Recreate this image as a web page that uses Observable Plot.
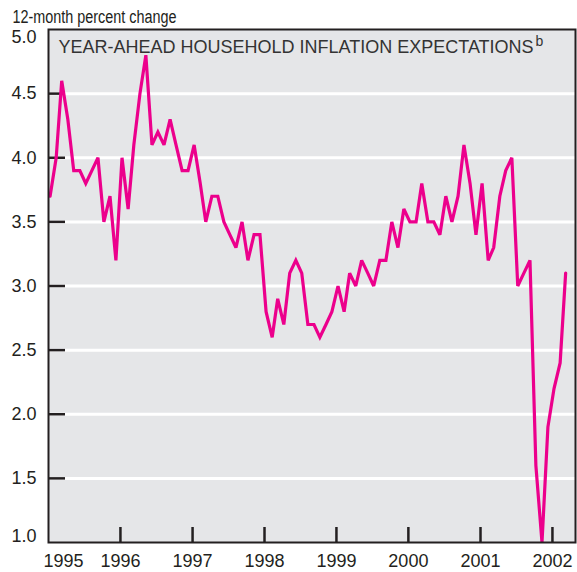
<!DOCTYPE html>
<html>
<head>
<meta charset="utf-8">
<script src="https://cdn.jsdelivr.net/npm/d3@7"></script>
<script src="https://cdn.jsdelivr.net/npm/@observablehq/plot@0.6"></script>
<style>
  html, body { margin: 0; padding: 0; background: #ffffff; }
  #chart { width: 577px; height: 572px; }
</style>
</head>
<body>
<div id="chart"></div>
<script>
// ---- data (monthly, Jan 1995 – Mar 2002) ----
const startYear = 1995;
const values = [
  3.7, 4.0, 4.6, 4.3, 3.9, 3.9, 3.8, 3.9, 4.0, 3.5, 3.7, 3.2,
  4.0, 3.6, 4.1, 4.5, 4.8, 4.1, 4.2, 4.1, 4.3, 4.1, 3.9, 3.9,
  4.1, 3.8, 3.5, 3.7, 3.7, 3.5, 3.4, 3.3, 3.5, 3.2, 3.4, 3.4,
  2.8, 2.6, 2.9, 2.7, 3.1, 3.2, 3.1, 2.7, 2.7, 2.6, 2.7, 2.8,
  3.0, 2.8, 3.1, 3.0, 3.2, 3.1, 3.0, 3.2, 3.2, 3.5, 3.3, 3.6,
  3.5, 3.5, 3.8, 3.5, 3.5, 3.4, 3.7, 3.5, 3.7, 4.1, 3.8, 3.4,
  3.8, 3.2, 3.3, 3.7, 3.9, 4.0, 3.0, 3.1, 3.2, 1.6, 1.0, 1.9,
  2.2, 2.4, 3.1
];
const gridTicks = [1.5, 2.0, 2.5, 3.0, 3.5, 4.0, 4.5];
const topTick = [5.0];
const bottomTick = [1.0];
const yearTicks = [1996, 1997, 1998, 1999, 2000, 2001, 2002];
const firstYear = [1995];
const titleText = "YEAR-AHEAD HOUSEHOLD INFLATION EXPECTATIONS";
const titleSup = "b";
const unitText = "12-month percent change";

// ---- build table ----
const data = values.map((v, i) => ({date: new Date(Date.UTC(startYear, i, 9)), value: v}));
const yd = (y) => new Date(Date.UTC(y, 0, 1));

const font = "'Liberation Sans', Arial, Helvetica, sans-serif";
const ink = "#231f20";
const W = 577, H = 572, ML = 48, MR = 2, MT = 29, MB = 30;
const innerW = W - ML - MR, innerH = H - MT - MB;

const plot = Plot.plot({
  width: W,
  height: H,
  marginLeft: ML,
  marginRight: MR,
  marginTop: MT,
  marginBottom: MB,
  style: {background: "#ffffff", fontFamily: font, color: ink},
  x: {type: "utc", domain: [yd(1995), new Date(Date.UTC(2002, 3, 28))], axis: null},
  y: {domain: [1, 5], axis: null},
  marks: [
    Plot.frame({fill: "#e5e6e8", stroke: null}),
    Plot.ruleY(gridTicks, {stroke: "#ffffff", strokeWidth: 3}),
    // inward tick marks on the left edge
    Plot.tickY(gridTicks, {y: d => d, stroke: ink, strokeWidth: 2.5, insetRight: innerW - 17}),
    // inward tick marks on the bottom edge
    Plot.tickX(yearTicks, {x: d => yd(d), stroke: ink, strokeWidth: 2.5, insetTop: innerH - 15}),
    Plot.line(data, {x: "date", y: "value", stroke: "#ec008c", strokeWidth: 3.2, strokeLinejoin: "miter", strokeMiterlimit: 3}),
    Plot.frame({stroke: ink, strokeWidth: 2}),
    // y tick labels
    Plot.text(gridTicks, {y: d => d, text: d => d.toFixed(1), frameAnchor: "left", textAnchor: "end", dx: -12, fontSize: 18, fill: ink}),
    Plot.text(topTick, {y: d => d, text: d => d.toFixed(1), frameAnchor: "left", textAnchor: "end", dx: -12, dy: 8, fontSize: 18, fill: ink}),
    Plot.text(bottomTick, {y: d => d, text: d => d.toFixed(1), frameAnchor: "left", textAnchor: "end", dx: -12, dy: -6, fontSize: 18, fill: ink}),
    // x labels
    Plot.text(yearTicks, {x: d => yd(d), text: d => String(d), frameAnchor: "bottom", dy: 24, fontSize: 18, fill: ink}),
    Plot.text(firstYear, {x: d => yd(d), text: d => String(d), frameAnchor: "bottom", textAnchor: "start", dx: -5, dy: 24, fontSize: 18, fill: ink}),
    // unit label above
    Plot.text([unitText], {text: d => d, frameAnchor: "top-left", textAnchor: "start", dx: -36, dy: -19, fontSize: 18, fill: ink}),
    // title inside panel
    Plot.text([titleText], {text: d => d, frameAnchor: "top-left", textAnchor: "start", dx: 10, dy: 11, fontSize: 18, fill: "#333333"})
  ]
});

document.getElementById("chart").appendChild(plot);

const svgSel = d3.select(plot);
// condensed look for the unit label
svgSel.selectAll("text")
  .filter(function() { return this.textContent === unitText; })
  .attr("textLength", 164)
  .attr("lengthAdjust", "spacingAndGlyphs");

svgSel.selectAll("text")
  .filter(function() { return this.textContent === titleText; })
  .append("tspan")
  .attr("dy", "-0.55em")
  .attr("dx", "2")
  .attr("font-size", 14)
  .text(titleSup);
</script>
</body>
</html>
